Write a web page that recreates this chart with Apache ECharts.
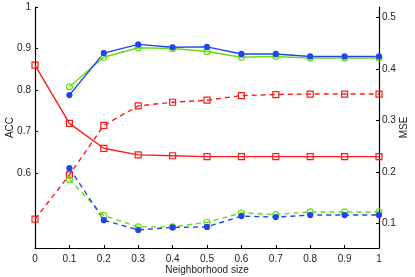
<!DOCTYPE html>
<html>
<head>
<meta charset="utf-8">
<script src="https://cdn.jsdelivr.net/npm/echarts@6/dist/echarts.min.js"></script>
<style>html,body{margin:0;padding:0;background:#fff;}#c{width:415px;height:277px;}</style>
</head>
<body>
<div id="c"></div>
<script>
const xValues = [0, 0.1, 0.2, 0.3, 0.4, 0.5, 0.6, 0.7, 0.8, 0.9, 1.0];
const accRed   = [0.86, 0.72, 0.66, 0.644, 0.642, 0.640, 0.640, 0.640, 0.640, 0.640, 0.640];
const accBlue  = [null, 0.788, 0.889, 0.910, 0.903, 0.904, 0.887, 0.887, 0.881, 0.881, 0.881];
const accGreen = [null, 0.808, 0.879, 0.902, 0.900, 0.893, 0.879, 0.881, 0.877, 0.877, 0.877];
const mseRed   = [0.108, 0.194, 0.290, 0.328, 0.335, 0.339, 0.348, 0.350, 0.351, 0.351, 0.351];
const mseBlue  = [null, 0.207, 0.106, 0.087, 0.092, 0.093, 0.114, 0.112, 0.116, 0.116, 0.116];
const mseGreen = [null, 0.185, 0.115, 0.093, 0.093, 0.102, 0.120, 0.117, 0.122, 0.122, 0.122];
const xTicks = [0, 0.1, 0.2, 0.3, 0.4, 0.5, 0.6, 0.7, 0.8, 0.9, 1];
const accTicks = [0.6, 0.7, 0.8, 0.9, 1];
const mseTicks = [0.1, 0.2, 0.3, 0.4, 0.5];

const RED = '#ff1a1a', BLUE = '#2244ee', GREEN = '#66dd11';
const FONT = 'Liberation Sans';
function pairs(arr) { return xValues.map((x, i) => [x, arr[i]]).filter(p => p[1] !== null); }
function fmt(v) { return String(Math.round(v * 10) / 10); }

function mk(name, data, axis, color, dashed, symbol, filled) {
  return {
    name, type: 'line', yAxisIndex: axis, data: pairs(data),
    symbol, symbolSize: filled ? 5 : 6,
    showAllSymbol: true, animation: false,
    lineStyle: { color, width: 1.4, type: dashed ? [5, 4] : 'solid' },
    itemStyle: { color: filled ? color : 'rgba(255,255,255,0)', borderColor: color, borderWidth: 1.2 },
    emphasis: { disabled: true }
  };
}

const chart = echarts.init(document.getElementById('c'), null, { renderer: 'canvas' });
chart.setOption({
  animation: false,
  grid: { left: 35, right: 36, top: 7, bottom: 29, containLabel: false, outerBoundsMode: 'none' },
  xAxis: {
    type: 'value', min: 0, max: 1, interval: 0.1,
    name: 'Neighborhood size', nameLocation: 'middle', nameGap: 17, nameMoveOverlap: false,
    nameTextStyle: { fontFamily: FONT, fontSize: 10, color: '#222' },
    axisLine: { lineStyle: { color: '#000', width: 1.2 } },
    axisTick: { inside: true, length: 3, lineStyle: { color: '#000' } },
    axisLabel: { fontFamily: FONT, fontSize: 10, color: '#222', margin: 6, formatter: fmt },
    splitLine: { show: false }
  },
  yAxis: [{
    type: 'value', min: 0.42, max: 1, position: 'left',
    name: 'ACC', nameLocation: 'middle', nameGap: 20, nameRotate: 90, nameMoveOverlap: false,
    nameTextStyle: { fontFamily: FONT, fontSize: 10, color: '#222' },
    axisLine: { show: true, lineStyle: { color: '#000', width: 1.2 } },
    axisTick: { show: true, inside: true, length: 3, customValues: accTicks, lineStyle: { color: '#000' } },
    axisLabel: { fontFamily: FONT, fontSize: 10, color: '#222', margin: 4, customValues: accTicks, formatter: fmt },
    splitLine: { show: false }
  }, {
    type: 'value', min: 0.052, max: 0.52, position: 'right',
    name: 'MSE', nameLocation: 'middle', nameGap: 20, nameRotate: 90, nameMoveOverlap: false,
    nameTextStyle: { fontFamily: FONT, fontSize: 10, color: '#222' },
    axisLine: { show: true, lineStyle: { color: '#000', width: 1.2 } },
    axisTick: { show: true, inside: true, length: 3, customValues: mseTicks, lineStyle: { color: '#000' } },
    axisLabel: { fontFamily: FONT, fontSize: 10, color: '#222', margin: 3, customValues: mseTicks, formatter: fmt },
    splitLine: { show: false }
  }],
  series: [
    mk('ACC red', accRed, 0, RED, false, 'rect', false),
    mk('ACC green', accGreen, 0, GREEN, false, 'circle', false),
    mk('ACC blue', accBlue, 0, BLUE, false, 'circle', true),
    mk('MSE red', mseRed, 1, RED, true, 'rect', false),
    mk('MSE green', mseGreen, 1, GREEN, true, 'circle', false),
    mk('MSE blue', mseBlue, 1, BLUE, true, 'circle', true)
  ]
});
</script>
</body>
</html>
